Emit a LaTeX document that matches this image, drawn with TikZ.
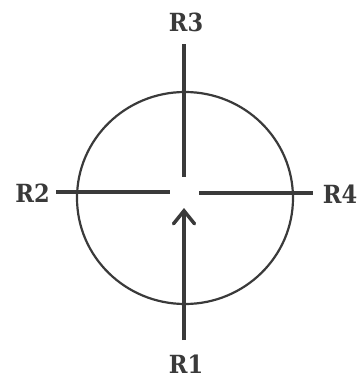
\documentclass[tikz,border=0pt]{standalone}
\usepackage{fontspec}
\setmainfont{DejaVu Serif Condensed}
\usetikzlibrary{arrows.meta}
\definecolor{ink}{HTML}{3A3A3A}
\tikzset{
  axisline/.style={draw=ink, line width=3.5pt},
  lbl/.style={text=ink, font=\bfseries\fontsize{25}{25}\selectfont, inner sep=0pt, anchor=base},
}
\begin{document}
\begin{tikzpicture}[x=1pt,y=-1pt]
\useasboundingbox (0,0) rectangle (358,378);
\draw[ink, line width=2.2pt] (185,198) ellipse [x radius=108, y radius=106];
\node[lbl] (r3) at (186,31) {R3};
\node[lbl] (r2) at (32.5,202) {R2};
\node[lbl] (r4) at (340,203) {R4};
\node[lbl] (r1) at (186,373) {R1};
\coordinate (a3s) at (184,44);
\coordinate (a3e) at (184,177);
\coordinate (a2s) at (56,192);
\coordinate (a2e) at (170,192);
\coordinate (a4s) at (199,193);
\coordinate (a4e) at (313,193);
\coordinate (a1s) at (184,340);
\coordinate (a1e) at (184,208);
\draw[axisline] (a3s) -- (a3e);
\draw[axisline] (a2s) -- (a2e);
\draw[axisline] (a4s) -- (a4e);
\draw[axisline, -{Straight Barb[length=13pt,width=21pt,line cap=round]}] (a1s) -- (a1e);
\end{tikzpicture}
\end{document}
